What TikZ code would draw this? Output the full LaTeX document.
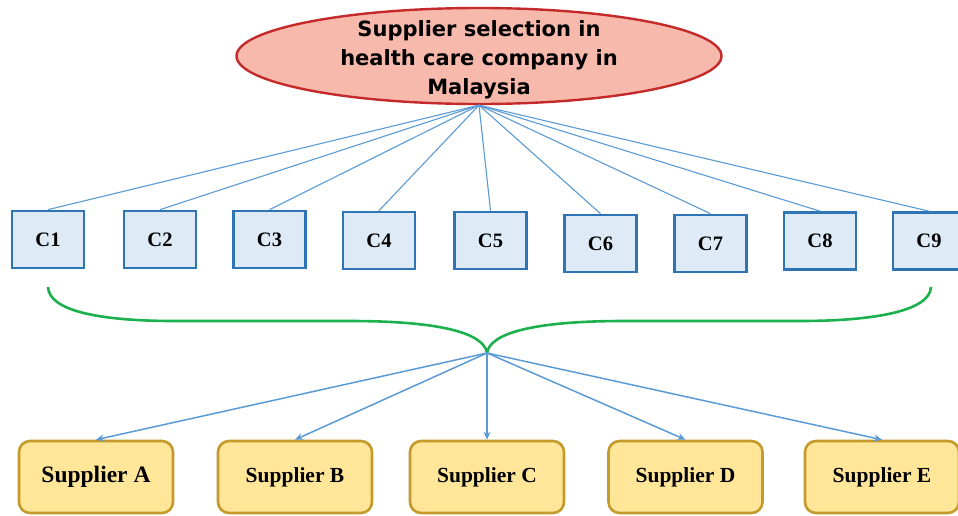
\documentclass[tikz,border=0pt]{standalone}
\usepackage{fontspec}
\setmainfont{Liberation Serif}
\newfontfamily\titlefont{DejaVu Sans}
\usetikzlibrary{shapes.geometric,arrows.meta}
\definecolor{ellfill}{HTML}{F8B9AD}
\definecolor{elldraw}{HTML}{C42A2A}
\definecolor{cfill}{HTML}{DEEBF7}
\definecolor{cdraw}{HTML}{2E75B6}
\definecolor{linkcol}{HTML}{5B9BD5}
\definecolor{sfill}{HTML}{FFE699}
\definecolor{sdraw}{HTML}{C49A2C}
\definecolor{bracecol}{HTML}{1DB04E}
\tikzset{
  titleell/.style={ellipse, draw=elldraw, fill=ellfill, line width=2.4pt, minimum width=485pt, minimum height=96pt, inner sep=0pt},
  titletext/.style={align=center, font=\titlefont\bfseries\fontsize{21}{29}\selectfont, inner sep=0pt},
  critbox/.style={rectangle, draw=cdraw, fill=cfill, line width=2.7pt, minimum width=72pt, minimum height=57pt, inner sep=0pt, font=\bfseries\fontsize{20.5}{24}\selectfont},
  suppbox/.style={rectangle, rounded corners=11pt, draw=sdraw, fill=sfill, line width=2.6pt, minimum width=154pt, minimum height=72pt, inner sep=0pt, font=\bfseries\fontsize{21.5}{26}\selectfont},
  link/.style={draw=linkcol, line width=1.1pt},
  arrowlink/.style={draw=linkcol, line width=1.5pt, -{Stealth[length=8pt,width=7pt]}},
  bracestyle/.style={draw=bracecol, line width=2.6pt}
}
\begin{document}
\begin{tikzpicture}[x=1pt,y=-1pt]
\useasboundingbox (0,0) rectangle (958,515);
\clip (0,0) rectangle (958,515);
\fill[white] (0,0) rectangle (958,515);
% title
\node[titleell] (top) at (479,56) {};
\node[titletext] (toptext) at (479,59.5) {Supplier selection in\\health care company in\\Malaysia};
% criteria
\node[critbox] (c1) at (48,239.5) {C1};
\node[critbox] (c2) at (160,239.5) {C2};
\node[critbox] (c3) at (269.5,239.5) {C3};
\node[critbox] (c4) at (379,240.5) {C4};
\node[critbox] (c5) at (490.5,240.5) {C5};
\node[critbox] (c6) at (600.5,243.5) {C6};
\node[critbox] (c7) at (710.5,243.5) {C7};
\node[critbox] (c8) at (820,241) {C8};
\node[critbox] (c9) at (929,241) {C9};
\foreach \i in {1,...,9} {\draw[link] (top.south) -- (c\i.north);}
% brace
\coordinate (tip) at (487,353);
\coordinate (bl) at (48,287);
\coordinate (br) at (931,287);
\draw[bracestyle] (bl) .. controls (49,311) and (100,321) .. (175,321) -- (350,321)
  .. controls (440,321) and (484,333) .. (tip)
  .. controls (490,333) and (534,321) .. (624,321) -- (800,321)
  .. controls (874,321) and (930,311) .. (br);
\coordinate (stub) at (487,366);
\draw[bracecol, line width=2.2pt] (tip) -- (stub);
% suppliers
\node[suppbox, font=\bfseries\fontsize{23.5}{28}\selectfont] (sa) at (96,477) {Supplier A};
\node[suppbox] (sb) at (295,477) {Supplier B};
\node[suppbox] (sc) at (487,477) {Supplier C};
\node[suppbox] (sd) at (685.5,477) {Supplier D};
\node[suppbox] (se) at (882,477) {Supplier E};
\foreach \s in {sa,sb,sc,sd,se} {\draw[arrowlink] (tip) -- (\s.north);}
\end{tikzpicture}
\end{document}
